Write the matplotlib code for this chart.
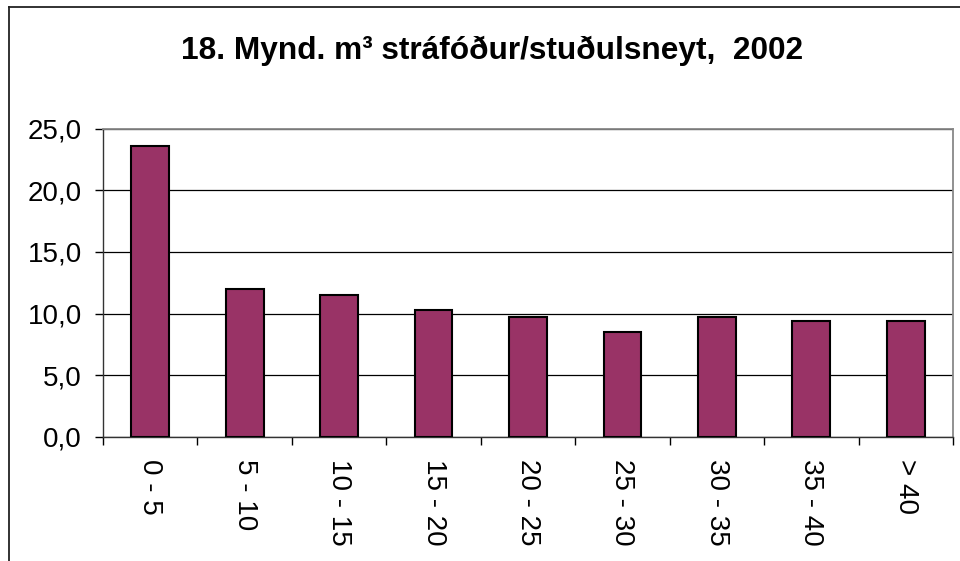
import matplotlib
matplotlib.use("Agg")
import matplotlib.pyplot as plt
from matplotlib.lines import Line2D
import numpy as np

plt.rcParams['font.family'] = ['Liberation Sans', 'DejaVu Sans']

# data
categories = ['0 - 5', '5 - 10', '10 - 15', '15 - 20', '20 - 25',
              '25 - 30', '30 - 35', '35 - 40', '> 40']
values = [23.6, 12.0, 11.5, 10.3, 9.7, 8.5, 9.7, 9.4, 9.4]
yticks = [0, 5, 10, 15, 20, 25]
title = '18. Mynd. m³ stráfóður/stuðulsneyt,  2002'

W, H = 960, 561
fig = plt.figure(figsize=(W / 100, H / 100), dpi=100)
fig.patch.set_facecolor('white')

# outer chart frame (clipped on right and bottom like the original)
fig.add_artist(Line2D([9 / W, 9 / W], [1 - 7 / H, 0], transform=fig.transFigure,
                      color='#222222', lw=1.3))
fig.add_artist(Line2D([9 / W, 1], [1 - 7 / H, 1 - 7 / H], transform=fig.transFigure,
                      color='#222222', lw=1.3))

ax = fig.add_axes([103 / W, 1 - 437 / H, 850 / W, 308.5 / H])

x = np.arange(len(categories))
ax.bar(x, values, width=0.4, color='#993366', edgecolor='black', linewidth=1.5, zorder=3)

ax.set_xlim(-0.5, len(categories) - 0.5)
ax.set_ylim(0, 25)

ax.set_yticks(yticks)
ax.set_yticklabels([f'{v:.1f}'.replace('.', ',') for v in yticks], fontsize=20)
ax.yaxis.grid(True, color='black', lw=0.9, zorder=0)

# ticks at the category boundaries, labels at the centres
ax.set_xticks(np.arange(len(categories) + 1) - 0.5)
ax.set_xticklabels([])
ax.set_xticks(x, minor=True)
ax.set_xticklabels(categories, minor=True, rotation=270, fontsize=20,
                   va='top', ha='center')
ax.tick_params(axis='x', which='minor', length=0, pad=16)
ax.tick_params(axis='x', which='major', length=5.8, width=1, color='black')
ax.tick_params(axis='y', length=5.8, width=1, color='black', pad=9.4)

for side in ['top', 'right']:
    ax.spines[side].set_color('#888888')
    ax.spines[side].set_linewidth(1.3)
for side in ['left', 'bottom']:
    ax.spines[side].set_color('#333333')
    ax.spines[side].set_linewidth(1.0)

fig.text(492 / W, 1 - 58.5 / H, title, ha='center', va='baseline',
         fontsize=22.8, fontweight='bold')

fig.savefig('out.png', dpi=100)
